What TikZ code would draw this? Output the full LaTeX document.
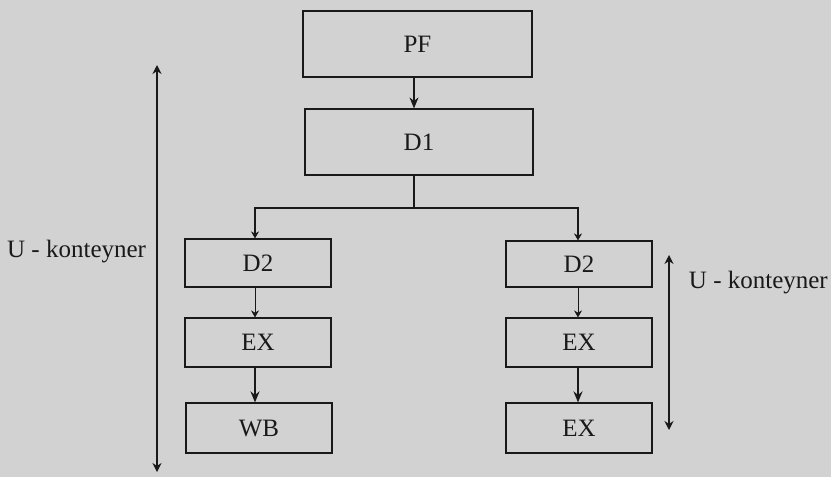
\documentclass[tikz,border=0pt]{standalone}
\usepackage{fontspec}
\setmainfont{Liberation Serif}
\usetikzlibrary{arrows.meta}
\definecolor{bg}{RGB}{210,210,210}
\definecolor{ink}{RGB}{25,25,25}
\tikzset{
  box/.style={draw=ink, line width=1.2pt, minimum width=146pt, inner sep=0pt, font=\fontsize{25}{25}\selectfont, text=ink},
  conn/.style={draw=ink, line width=1.2pt},
  arr/.style={conn, -{Stealth[length=11pt,width=9pt]}},
  smallarr/.style={conn, -{Stealth[length=7pt,width=8pt]}},
  span/.style={draw=ink, line width=1.3pt, {Stealth[length=9pt,width=9pt]}-{Stealth[length=9pt,width=9pt]}},
  lbl/.style={font=\fontsize{25}{25}\selectfont, text=ink, inner sep=0pt}
}
\begin{document}
\begin{tikzpicture}[x=1pt,y=-1pt]
\fill[bg] (0,0) rectangle (831,477);
\useasboundingbox (0,0) rectangle (831,477);
\node[box, minimum width=229pt, minimum height=66pt] (pf) at (417.5,44) {PF};
\node[box, minimum width=228pt, minimum height=66pt] (d1) at (419,142) {D1};
\node[box, minimum height=48pt] (d2l) at (258,263) {D2};
\node[box, minimum height=49pt] (exl) at (258,342.5) {EX};
\node[box, minimum height=50pt] (wb) at (259,428) {WB};
\node[box, minimum height=46pt] (d2r) at (579,264) {D2};
\node[box, minimum height=49pt] (exr) at (579,342.5) {EX};
\node[box, minimum height=50pt] (ex2) at (579,428) {EX};
\coordinate (bt) at (414,208);
\draw[arr] (pf.south -| bt) -- (d1.north -| bt);
\draw[conn] (d1.south -| bt) -- (bt);
\draw[smallarr] (bt) -| (d2l.north -| 255,0);
\draw[smallarr] (bt) -| (d2r.north -| 578,0);
\draw[smallarr, line width=0.9pt] (d2l.south -| 255,0) -- (exl.north -| 255,0);
\draw[arr, line width=1.7pt] (exl.south -| 255,0) -- (wb.north -| 255,0);
\draw[smallarr, line width=0.9pt] (d2r.south -| 578,0) -- (exr.north -| 578,0);
\draw[arr, line width=1.7pt] (exr.south -| 578,0) -- (ex2.north -| 578,0);
\coordinate (lt) at (157,65);
\coordinate (lb) at (157,472);
\coordinate (rt) at (669,255);
\coordinate (rb) at (669,430);
\draw[span] (lt) -- (lb);
\draw[span] (rt) -- (rb);
\node[lbl, anchor=west] (ul) at (7,252) {U - konteyner};
\node[lbl, anchor=east] (ur) at (828,283) {U - konteyner};
\end{tikzpicture}
\end{document}
